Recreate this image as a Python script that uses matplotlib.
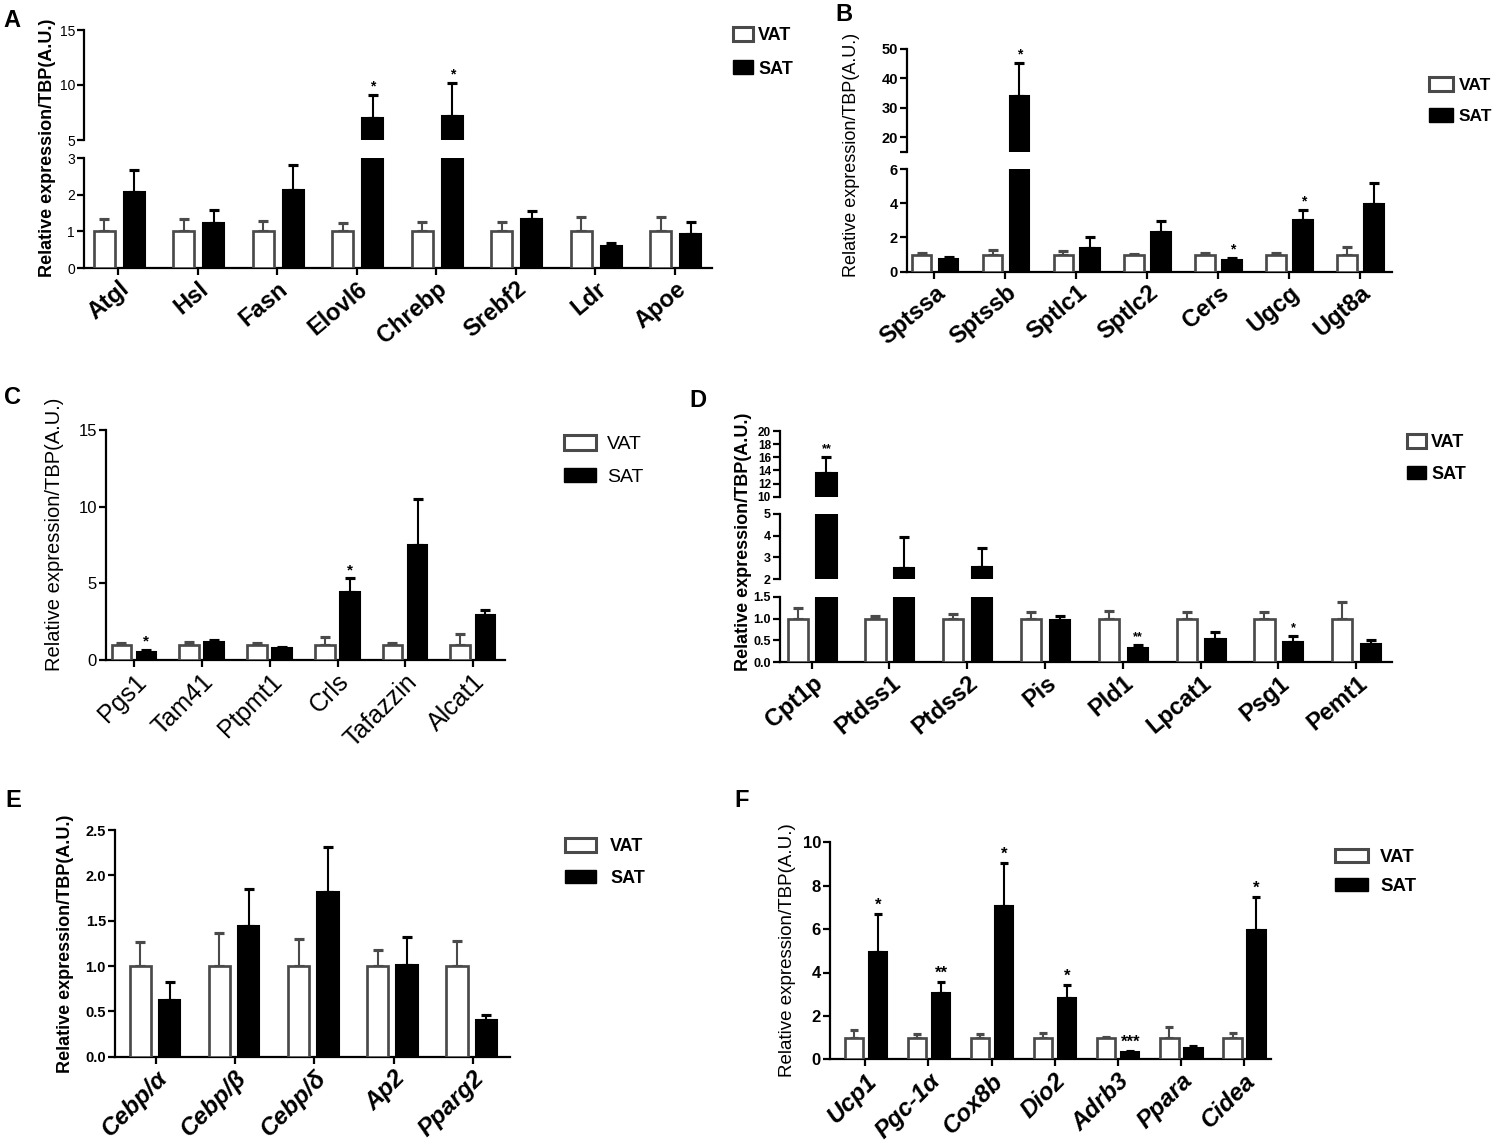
import matplotlib
matplotlib.use("Agg")
import matplotlib.pyplot as plt
import numpy as np
from matplotlib.patches import Patch
from matplotlib import font_manager
import matplotlib.transforms as mtransforms

plt.rcParams['font.family'] = ['Liberation Sans', 'DejaVu Sans']

# ---------------- data ----------------
A_genes = ['Atgl', 'Hsl', 'Fasn', 'Elovl6', 'Chrebp', 'Srebf2', 'Ldr', 'Apoe']
A_vat = [1.0, 1.0, 1.0, 1.0, 1.0, 1.0, 1.0, 1.0]
A_vat_sem = [0.33, 0.35, 0.29, 0.22, 0.26, 0.26, 0.40, 0.38]
A_sat = [2.08, 1.22, 2.13, 6.97, 7.20, 1.33, 0.60, 0.92]
A_sat_sem = [0.59, 0.36, 0.67, 2.13, 2.95, 0.23, 0.09, 0.34]
A_sig = ['', '', '', '*', '*', '', '', '']

B_genes = ['Sptssa', 'Sptssb', 'Sptlc1', 'Sptlc2', 'Cers', 'Ugcg', 'Ugt8a']
B_vat = [1.0, 1.0, 1.0, 1.0, 1.0, 1.0, 1.0]
B_vat_sem = [0.12, 0.25, 0.20, 0.05, 0.08, 0.10, 0.47]
B_sat = [0.74, 34.0, 1.36, 2.30, 0.68, 3.00, 3.98]
B_sat_sem = [0.14, 11.3, 0.64, 0.66, 0.10, 0.60, 1.22]
B_sig = ['', '*', '', '', '*', '*', '']

C_genes = ['Pgs1', 'Tam41', 'Ptpmt1', 'Crls', 'Tafazzin', 'Alcat1']
C_vat = [1.0, 1.0, 1.0, 1.0, 1.0, 1.0]
C_vat_sem = [0.10, 0.15, 0.12, 0.50, 0.12, 0.68]
C_sat = [0.54, 1.20, 0.76, 4.46, 7.50, 2.93]
C_sat_sem = [0.11, 0.10, 0.11, 0.87, 2.98, 0.33]
C_sig = ['*', '', '', '*', '', '']

D_genes = ['Cpt1p', 'Ptdss1', 'Ptdss2', 'Pis', 'Pld1', 'Lpcat1', 'Psg1', 'Pemt1']
D_vat = [1.0, 1.0, 1.0, 1.0, 1.0, 1.0, 1.0, 1.0]
D_vat_sem = [0.25, 0.05, 0.10, 0.15, 0.18, 0.16, 0.16, 0.38]
D_sat = [13.65, 2.49, 2.57, 0.97, 0.32, 0.53, 0.46, 0.42]
D_sat_sem = [2.45, 1.43, 0.87, 0.10, 0.08, 0.16, 0.13, 0.10]
D_sig = ['**', '', '', '', '**', '', '*', '']

E_genes = ['Cebp/α', 'Cebp/β', 'Cebp/δ', 'Ap2', 'Pparg2']
E_vat = [1.0, 1.0, 1.0, 1.0, 1.0]
E_vat_sem = [0.26, 0.36, 0.30, 0.18, 0.28]
E_sat = [0.62, 1.44, 1.82, 1.01, 0.40]
E_sat_sem = [0.20, 0.41, 0.49, 0.31, 0.06]
E_sig = ['', '', '', '', '']

F_genes = ['Ucp1', 'Pgc-1α', 'Cox8b', 'Dio2', 'Adrb3', 'Ppara', 'Cidea']
F_vat = [1.0, 1.0, 1.0, 1.0, 1.0, 1.0, 1.0]
F_vat_sem = [0.34, 0.16, 0.16, 0.20, 0.05, 0.50, 0.19]
F_sat = [4.96, 3.04, 7.07, 2.81, 0.35, 0.51, 5.96]
F_sat_sem = [1.72, 0.54, 1.96, 0.63, 0.05, 0.12, 1.51]
F_sig = ['*', '**', '*', '*', '***', '', '*']

series_names = ['VAT', 'SAT']
ylabel_text = 'Relative expression/TBP(A.U.)'


# ---------------- helpers ----------------
def has_font(name):
    try:
        font_manager.findfont(font_manager.FontProperties(family=name),
                              fallback_to_default=False)
        return True
    except Exception:
        return False


NARROW = 'Liberation Sans Narrow' if has_font('Liberation Sans Narrow') else 'Liberation Sans'

W, H, DPI = 1500, 1148, 100
fig = plt.figure(figsize=(W / DPI, H / DPI), dpi=DPI)
VAT_EDGE = '#4a4a4a'


def add_ax(x0, ytop, x1, ybot):
    return fig.add_axes([x0 / W, 1 - ybot / H, (x1 - x0) / W, (ybot - ytop) / H])


def panel(genes, vat, vsem, sat, ssem, sig, L):
    n = len(genes)
    x = np.arange(n)
    stop = np.array(sat) + np.array(ssem)
    nseg = len(L['segs'])
    for k, (ytop, ybot, ylo, yhi, ticks, tlabels, tfs) in enumerate(L['segs']):
        ax = add_ax(L['x0'], ytop, L['x1'], ybot)
        ax.set_xlim(*L['xlim'])
        ax.set_ylim(ylo, yhi)
        ax.bar(x + L['offv'], vat, L['width'], facecolor='white',
               edgecolor=VAT_EDGE, linewidth=L['lw'] * 1.3, zorder=3)
        ax.bar(x + L['offs'], sat, L['width'], facecolor='black',
               edgecolor='black', linewidth=L['lw'], zorder=3)
        ax.errorbar(x + L['offv'], vat, yerr=[np.zeros(n), vsem], fmt='none',
                    ecolor=VAT_EDGE, elinewidth=L['lw'], capsize=L['cap'],
                    capthick=L['lw'] * 1.5, zorder=2)
        ax.errorbar(x + L['offs'], sat, yerr=[np.zeros(n), ssem], fmt='none',
                    ecolor='black', elinewidth=L['lw'], capsize=L['cap'],
                    capthick=L['lw'] * 1.5, zorder=2)
        for i in range(n):
            if sig[i] and ylo <= stop[i] <= yhi:
                ax.annotate(sig[i], xy=(x[i] + L['offs'], stop[i]),
                            xytext=(0, L['star_dy']), textcoords='offset points',
                            ha='center', va='baseline', fontsize=L['star_fs'],
                            fontweight='bold')
        for s in ['top', 'right']:
            ax.spines[s].set_visible(False)
        ax.spines['left'].set_linewidth(1.6)
        ax.spines['bottom'].set_linewidth(1.6)
        ax.set_yticks(ticks)
        ax.set_yticklabels(tlabels, fontsize=tfs, fontweight=L['tw'],
                           family=L.get('tfam', 'Liberation Sans'))
        ax.tick_params(axis='y', direction='out', length=5, width=1.6, pad=1.5)
        ax.set_facecolor('none')
        if k < nseg - 1:
            ax.spines['bottom'].set_visible(False)
            ax.set_xticks([])
        else:
            ax.set_xticks(x)
            ax.tick_params(axis='x', direction='out', length=5, width=1.6, pad=3)
            ax.set_xticklabels(genes, rotation=L['rot'], ha='right', va='center',
                               rotation_mode='anchor', fontsize=L['xfs'],
                               fontweight=L['xw'], fontstyle=L['xstyle'])
            off = mtransforms.ScaledTranslation(L['xlab_dx'] / DPI, -L['xlab_dy'] / DPI,
                                                fig.dpi_scale_trans)
            for lab in ax.get_xticklabels():
                lab.set_transform(lab.get_transform() + off)
    # y label
    fig.text(L['ylab'][0] / W, 1 - L['ylab'][1] / H, ylabel_text, rotation=90,
             ha='center', va='center', fontsize=L['ylab_fs'], fontweight=L['ylab_w'])
    # panel letter
    fig.text(L['letter_xy'][0] / W, 1 - L['letter_xy'][1] / H, L['letter'],
             ha='left', va='top', fontsize=17, fontweight='bold')
    # legend
    fs = L['leg_fs']
    fs_px = fs * DPI / 72.0
    hw, hh, pitch = L['leg_box']
    handles = [Patch(facecolor='white', edgecolor=VAT_EDGE, linewidth=2.2),
               Patch(facecolor='black', edgecolor='black', linewidth=1.0)]
    fig.legend(handles, series_names, loc='upper left',
               bbox_to_anchor=(L['leg_xy'][0] / W, 1 - L['leg_xy'][1] / H),
               bbox_transform=fig.transFigure, frameon=False,
               borderpad=0, borderaxespad=0,
               handlelength=hw / fs_px, handleheight=hh / fs_px,
               handletextpad=L['leg_pad'] / fs_px,
               labelspacing=max(pitch - 0.95 * fs_px, 0) / fs_px,
               prop={'size': fs, 'weight': L['leg_w']})


# ---------------- layouts (pixels) ----------------
LA = dict(x0=84, x1=712, xlim=(-0.428, 7.47), offv=-0.175, offs=0.205, width=0.265,
          segs=[(30, 140, 5, 15, [5, 10, 15], ['5', '10', '15'], 10),
                (158, 268, 0, 3, [0, 1, 2, 3], ['0', '1', '2', '3'], 10)],
          lw=1.5, cap=3.6, tw='normal', star_fs=10, star_dy=3.5,
          rot=40, xfs=17, xw='bold', xstyle='normal', xlab_dx=8, xlab_dy=7,
          ylab=(48, 148), ylab_fs=13, ylab_w='bold', letter='A', letter_xy=(3, 9),
          leg_xy=(733, 27), leg_fs=13, leg_w='bold', leg_box=(20, 15, 33), leg_pad=5)

LB = dict(x0=907, x1=1392, xlim=(-0.385, 6.45), offv=-0.18, offs=0.2, width=0.28,
          segs=[(49, 152, 15, 50, [15, 20, 30, 40, 50], ['', '20', '30', '40', '50'], 10.5),
                (169, 271.7, 0, 6, [0, 2, 4, 6], ['0', '2', '4', '6'], 10.5)],
          lw=1.5, cap=3.6, tw='bold', star_fs=10, star_dy=3.5,
          rot=40, xfs=17, xw='bold', xstyle='normal', xlab_dx=8, xlab_dy=7,
          ylab=(852, 155), ylab_fs=13, ylab_w='normal', letter='B', letter_xy=(835, 3),
          leg_xy=(1429, 77), leg_fs=12.5, leg_w='bold', leg_box=(24, 15, 31), leg_pad=6)

LC = dict(x0=106, x1=505, xlim=(-0.417, 5.47), offv=-0.19, offs=0.18, width=0.29,
          segs=[(430, 660, 0, 15, [0, 5, 10, 15], ['0', '5', '10', '15'], 12)],
          lw=1.5, cap=3.6, tw='normal', star_fs=11, star_dy=3.0,
          rot=45, xfs=18, xw='normal', xstyle='normal', xlab_dx=8, xlab_dy=7,
          ylab=(55, 534), ylab_fs=14.5, ylab_w='normal', letter='C', letter_xy=(4, 386),
          leg_xy=(564, 435), leg_fs=14, leg_w='normal', leg_box=(32, 15, 33), leg_pad=11)

LD = dict(x0=780, x1=1391.7, xlim=(-0.407, 7.455), offv=-0.18, offs=0.19, width=0.26,
          segs=[(431, 496.7, 10, 20, [10, 12, 14, 16, 18, 20],
                 ['10', '12', '14', '16', '18', '20'], 8.5),
                (514, 579, 2, 5, [2, 3, 4, 5], ['2', '3', '4', '5'], 9),
                (596.7, 662.3, 0, 1.5, [0, 0.5, 1.0, 1.5], ['0.0', '0.5', '1.0', '1.5'], 9)],
          lw=1.5, cap=3.6, tw='bold', tfam=NARROW, star_fs=9, star_dy=3.5,
          rot=40, xfs=17, xw='bold', xstyle='normal', xlab_dx=8, xlab_dy=7,
          ylab=(743, 542), ylab_fs=13, ylab_w='bold', letter='D', letter_xy=(689, 389),
          leg_xy=(1407, 434), leg_fs=13, leg_w='bold', leg_box=(19, 14, 32), leg_pad=5)

LE = dict(x0=115, x1=510, xlim=(-0.52, 4.47), offv=-0.2, offs=0.17, width=0.27,
          segs=[(830, 1056.7, 0, 2.5, [0, 0.5, 1.0, 1.5, 2.0, 2.5],
                 ['0.0', '0.5', '1.0', '1.5', '2.0', '2.5'], 10.5)],
          lw=1.5, cap=3.6, tw='bold', tfam=NARROW, star_fs=11, star_dy=3.5,
          rot=45, xfs=17.5, xw='bold', xstyle='italic', xlab_dx=8, xlab_dy=7,
          ylab=(65, 944), ylab_fs=13, ylab_w='bold', letter='E', letter_xy=(5, 789),
          leg_xy=(565, 838), leg_fs=13, leg_w='bold', leg_box=(31, 14, 32), leg_pad=14)

LF = dict(x0=830, x1=1271, xlim=(-0.56, 6.43), offv=-0.18, offs=0.2, width=0.29,
          segs=[(842.3, 1059.3, 0, 10, [0, 2, 4, 6, 8, 10],
                 ['0', '2', '4', '6', '8', '10'], 12)],
          lw=1.5, cap=3.0, tw='bold', star_fs=12, star_dy=3.0,
          rot=45, xfs=17.5, xw='bold', xstyle='italic', xlab_dx=8, xlab_dy=7,
          ylab=(788, 950), ylab_fs=13.5, ylab_w='normal', letter='F', letter_xy=(734, 789),
          leg_xy=(1335, 849), leg_fs=13.5, leg_w='bold', leg_box=(33, 13, 30), leg_pad=12)

panel(A_genes, A_vat, A_vat_sem, A_sat, A_sat_sem, A_sig, LA)
panel(B_genes, B_vat, B_vat_sem, B_sat, B_sat_sem, B_sig, LB)
panel(C_genes, C_vat, C_vat_sem, C_sat, C_sat_sem, C_sig, LC)
panel(D_genes, D_vat, D_vat_sem, D_sat, D_sat_sem, D_sig, LD)
panel(E_genes, E_vat, E_vat_sem, E_sat, E_sat_sem, E_sig, LE)
panel(F_genes, F_vat, F_vat_sem, F_sat, F_sat_sem, F_sig, LF)

fig.savefig('out.png', dpi=DPI, facecolor='white')
